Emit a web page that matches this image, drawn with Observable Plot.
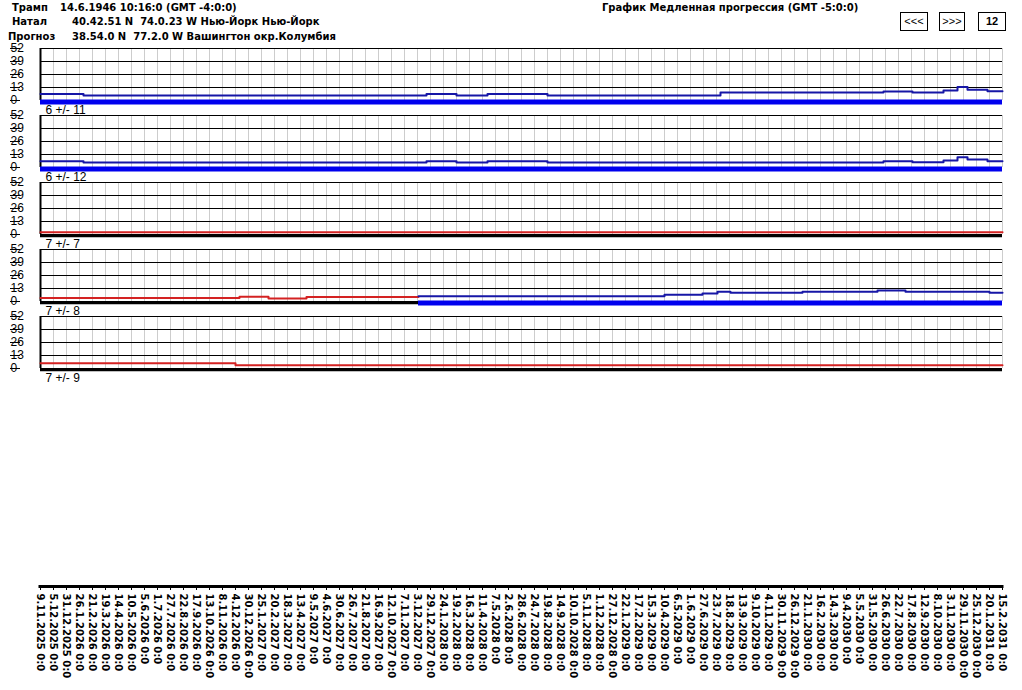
<!DOCTYPE html>
<html><head><meta charset="utf-8">
<script src="https://cdn.jsdelivr.net/npm/d3@7"></script>
<script src="https://cdn.jsdelivr.net/npm/@observablehq/plot@0.6"></script>
<style>
body{margin:0;background:#fff;}
#wrap{position:relative;width:1022px;height:690px;overflow:hidden;font-family:"DejaVu Sans",sans-serif;color:#000;}
.t{position:absolute;white-space:pre;font-weight:bold;font-size:10px;line-height:12px;}
.btn{position:absolute;border:1px solid #000;box-sizing:border-box;height:19px;top:12px;font-size:11px;line-height:17px;text-align:center;font-family:"Liberation Sans",sans-serif;}
.plot{position:absolute;left:0;}
</style></head><body><div id="wrap">
<div class="t" style="left:12px;top:2px">Трамп</div>
<div class="t" style="left:60px;top:2px">14.6.1946 10:16:0 (GMT -4:0:0)</div>
<div class="t" style="left:12px;top:16px">Натал</div>
<div class="t" style="left:72px;top:16px">40.42.51 N  74.0.23 W Нью-Йорк Нью-Йорк</div>
<div class="t" style="left:8px;top:31px">Прогноз</div>
<div class="t" style="left:72px;top:31px">38.54.0 N  77.2.0 W Вашингтон окр.Колумбия</div>
<div class="t" style="left:602px;top:2px">График Медленная прогрессия (GMT -5:0:0)</div>
<div class="btn" style="left:900px;width:28px">&lt;&lt;&lt;</div>
<div class="btn" style="left:939px;width:26px">&gt;&gt;&gt;</div>
<div class="btn" style="left:978px;width:28px;font-weight:bold">12</div>
<div id="p1" class="plot" style="top:0"></div>
<div id="p2" class="plot" style="top:580px"></div>
</div>
<script>
const startDate = "2025-11-09", endDate = "2031-02-15";
const yTicks = [0, 13, 26, 39, 52];
const panelLabels = ["6 +/- 11", "6 +/- 12", "7 +/- 7", "7 +/- 8", "7 +/- 9"];
const dateLabels = ["9.11.2025 0:0","5.12.2025 0:0","31.12.2025 0:0","26.1.2026 0:0","21.2.2026 0:0","19.3.2026 0:0","14.4.2026 0:0","10.5.2026 0:0","5.6.2026 0:0","1.7.2026 0:0","27.7.2026 0:0","22.8.2026 0:0","17.9.2026 0:0","13.10.2026 0:0","8.11.2026 0:0","4.12.2026 0:0","30.12.2026 0:0","25.1.2027 0:0","20.2.2027 0:0","18.3.2027 0:0","13.4.2027 0:0","9.5.2027 0:0","4.6.2027 0:0","30.6.2027 0:0","26.7.2027 0:0","21.8.2027 0:0","16.9.2027 0:0","12.10.2027 0:0","7.11.2027 0:0","3.12.2027 0:0","29.12.2027 0:0","24.1.2028 0:0","19.2.2028 0:0","16.3.2028 0:0","11.4.2028 0:0","7.5.2028 0:0","2.6.2028 0:0","28.6.2028 0:0","24.7.2028 0:0","19.8.2028 0:0","14.9.2028 0:0","10.10.2028 0:0","5.11.2028 0:0","1.12.2028 0:0","27.12.2028 0:0","22.1.2029 0:0","17.2.2029 0:0","15.3.2029 0:0","10.4.2029 0:0","6.5.2029 0:0","1.6.2029 0:0","27.6.2029 0:0","23.7.2029 0:0","18.8.2029 0:0","13.9.2029 0:0","9.10.2029 0:0","4.11.2029 0:0","30.11.2029 0:0","26.12.2029 0:0","21.1.2030 0:0","16.2.2030 0:0","14.3.2030 0:0","9.4.2030 0:0","5.5.2030 0:0","31.5.2030 0:0","26.6.2030 0:0","22.7.2030 0:0","17.8.2030 0:0","12.9.2030 0:0","8.10.2030 0:0","3.11.2030 0:0","29.11.2030 0:0","25.12.2030 0:0","20.1.2031 0:0","15.2.2031 0:0"];

// series values: [date, value] change points (step-after)
const p1Prog = [["2025-11-09",6.5],["2026-02-03",5],["2027-12-21",6.5],["2028-02-19",5],["2028-04-21",6.5],["2028-08-19",5],["2029-07-31",8],["2030-06-22",9],["2030-08-19",8],["2030-10-20",10],["2030-11-17",13.5],["2030-12-07",10.7],["2031-01-16",9.3],["2031-02-15",9.3]];
const p2Prog = [["2025-11-09",6.3],["2026-02-03",5],["2027-12-21",6.3],["2028-02-19",5],["2028-04-21",6.3],["2028-08-19",5],["2030-06-22",6.3],["2030-08-19",5.3],["2030-10-20",7],["2030-11-17",10.3],["2030-12-07",8],["2031-01-16",6.3],["2031-02-15",6.3]];
const p3Natal = [["2025-11-09",2.3],["2031-02-15",2.3]];
const p4Natal = [["2025-11-09",3.5],["2026-12-12",4.8],["2027-02-08",3],["2027-04-25",4.6],["2027-12-05",4.6]];
const p4Prog = [["2027-12-05",5.3],["2029-04-10",6.7],["2029-06-25",8],["2029-07-25",9.7],["2029-08-20",8.7],["2030-01-11",9.7],["2030-06-10",11],["2030-08-05",9.7],["2031-01-20",8.7],["2031-02-15",8.7]];
const p5Natal = [["2025-11-09",5.3],["2026-12-04",3.3],["2031-02-15",3.3]];
// bottom bands per panel
const bandPanels = [1, 2, 3, 4, 4, 5];
const bandKinds = ["prog", "prog", "natal", "natal", "prog", "natal"];
const bandFrom = ["2025-11-09","2025-11-09","2025-11-09","2025-11-09","2027-12-05","2025-11-09"];
const bandTo = ["2031-02-15","2031-02-15","2031-02-15","2027-12-05","2031-02-15","2031-02-15"];

const parse = s => new Date(s + "T00:00:00Z");
const tickDates = dateLabels.map(s => { const [d, m, y] = s.split(" ")[0].split(".").map(Number); return new Date(Date.UTC(y, m - 1, d)); });
const labelOf = new Map(tickDates.map((d, i) => [+d, dateLabels[i]]));
const series = [
  {panel: 1, kind: "prog", pts: p1Prog},
  {panel: 2, kind: "prog", pts: p2Prog},
  {panel: 3, kind: "natal", pts: p3Natal},
  {panel: 4, kind: "natal", pts: p4Natal},
  {panel: 4, kind: "prog", pts: p4Prog},
  {panel: 5, kind: "natal", pts: p5Natal}
];
const lineData = series.flatMap((s, i) => s.pts.map(([d, v]) => ({seg: i, panel: s.panel, kind: s.kind, date: parse(d), value: v})));
const bands = bandPanels.map((p, i) => ({panel: p, kind: bandKinds[i], from: parse(bandFrom[i]), to: parse(bandTo[i])}));
const lineColor = {prog: "#1616a6", natal: "#d42222"};
const xDomain = [parse(startDate), parse(endDate)];

const chart = Plot.plot({
  width: 1022, height: 380,
  marginTop: 48, marginBottom: 12, marginLeft: 40, marginRight: 20,
  style: {background: "transparent", overflow: "visible", fontFamily: "'Liberation Sans', sans-serif", fontSize: "12px", color: "#000"},
  x: {type: "utc", domain: xDomain, axis: null},
  y: {domain: [0, 52]},
  fy: {domain: [1, 2, 3, 4, 5], axis: null, paddingInner: 15 / 67, paddingOuter: 0},
  marks: [
    Plot.gridX(tickDates.slice(1), {stroke: "#cdcdcd", strokeOpacity: 1, strokeWidth: 1}),
    Plot.gridY(yTicks.slice(1), {stroke: "#000", strokeOpacity: 1}),
    Plot.axisY(yTicks, {label: null, tickSize: 10, tickPadding: 0, textAnchor: "start", dx: -20, stroke: "#000", strokeOpacity: 1, fill: "#000", fontSize: 12}),
    Plot.ruleY([0], {stroke: "#000"}),
    Plot.ruleX([xDomain[0]], {stroke: "#000", strokeWidth: 2}),
    Plot.ruleY(bands.filter(b => b.kind === "prog"), {fy: "panel", y: 0, x1: "from", x2: "to", stroke: "#0000ee", strokeWidth: 5, dy: 1.5}),
    Plot.ruleY(bands.filter(b => b.kind === "natal"), {fy: "panel", y: 0, x1: "from", x2: "to", stroke: "#000", strokeWidth: 3, dy: 1.2}),
    Plot.line(lineData, {x: "date", y: "value", z: "seg", fy: "panel", stroke: d => lineColor[d.kind], curve: "step-after", strokeWidth: 2}),
    Plot.text(panelLabels, {fy: (d, i) => i + 1, text: d => d, frameAnchor: "bottom-left", dx: 5, dy: 13, textAnchor: "start", fill: "#000", fontSize: 12})
  ]
});
document.getElementById("p1").appendChild(chart);

const axisChart = Plot.plot({
  width: 1022, height: 110,
  marginTop: 6, marginBottom: 103, marginLeft: 40, marginRight: 20,
  style: {background: "transparent", overflow: "visible", fontFamily: "'DejaVu Sans', sans-serif", color: "#000"},
  x: {type: "utc", domain: xDomain, axis: null},
  y: {domain: [0, 1], axis: null},
  marks: [
    Plot.ruleY([0], {x1: xDomain[0], x2: xDomain[1], stroke: "#000", strokeWidth: 3, strokeLinecap: "square", dy: -1}),
    Plot.axisX(tickDates, {anchor: "bottom", label: null, tickSize: 3, tickPadding: 3, tickRotate: 90, textAnchor: "start", tickFormat: d => labelOf.get(+d), fontSize: 10, fontWeight: "bold", stroke: "#000", strokeOpacity: 1, fill: "#000"})
  ]
});
document.getElementById("p2").appendChild(axisChart);
</script>
</body></html>
